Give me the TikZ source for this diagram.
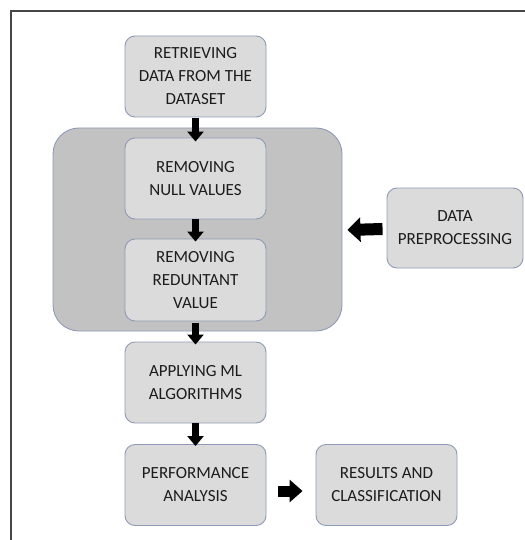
\documentclass[tikz,border=0pt]{standalone}
\usepackage{fontspec}
\setmainfont{Carlito}
\usetikzlibrary{arrows.meta,calc}
\definecolor{boxfill}{HTML}{DBDBDB}
\definecolor{grpfill}{HTML}{C2C2C2}
\definecolor{edgec}{HTML}{8E9AB6}
\definecolor{txt}{HTML}{1C1C1C}
\definecolor{framec}{HTML}{474747}
\tikzset{
  stepbox/.style={draw=edgec, fill=boxfill, line width=0.9pt, rounded corners=10pt,
    minimum width=141pt, minimum height=81pt, inner sep=0pt, align=center,
    text=txt, font=\fontsize{17}{23}\selectfont},
  groupbox/.style={draw=edgec, fill=grpfill, line width=0.9pt, rounded corners=26pt,
    minimum width=289pt, minimum height=203pt, inner sep=0pt},
  vflow/.style={line width=7.5pt, -{Triangle[width=16pt,length=10pt]}},
  bigflow/.style={line width=12pt, -{Triangle[width=24pt,length=13pt]}},
  midflow/.style={line width=11pt, -{Triangle[width=22pt,length=13pt]}}
}
\begin{document}
\begin{tikzpicture}[x=1pt,y=-1pt]
\useasboundingbox (0,0) rectangle (524,540);
\fill[white] (0,0) rectangle (524,540);
\draw[line width=2pt, framec] (530,11) -- (11,11) -- (11,545);

\node[groupbox] (grp) at (197.5,229.5) {};
\node[stepbox] (ret) at (195.5,76.5) {RETRIEVING\\DATA FROM THE\\DATASET};
\node[stepbox] (null) at (195.5,178.5) {REMOVING\\NULL VALUES};
\node[stepbox, minimum height=82pt] (red) at (195.5,280) {REMOVING\\REDUNTANT\\VALUE};
\node[stepbox] (app) at (195.5,382.5) {APPLYING ML\\ALGORITHMS};
\node[stepbox] (perf) at (195.5,485) {PERFORMANCE\\ANALYSIS};
\node[stepbox] (res) at (386.5,485) {RESULTS AND\\CLASSIFICATION};
\node[stepbox, minimum width=136pt, minimum height=80pt] (pre) at (455,228) {DATA\\PREPROCESSING};

\draw[vflow] ($(ret.south)+(0,1)$) -- ($(null.north)+(0,4)$);
\draw[vflow] ($(null.south)+(0,0)$) -- ($(red.north)+(0,3)$);
\draw[vflow] ($(red.south)+(0,2)$) -- ($(app.north)+(0,3)$);
\draw[vflow] ($(app.south)+(0,0)$) -- ($(perf.north)+(0,2)$);
\draw[bigflow] ($(pre.west)+(-4,1)$) -- ($(grp.east)+(5,0.5)$);
\draw[midflow] ($(perf.east)+(12,6)$) -- ($(res.west)+(-13,6)$);
\end{tikzpicture}
\end{document}
